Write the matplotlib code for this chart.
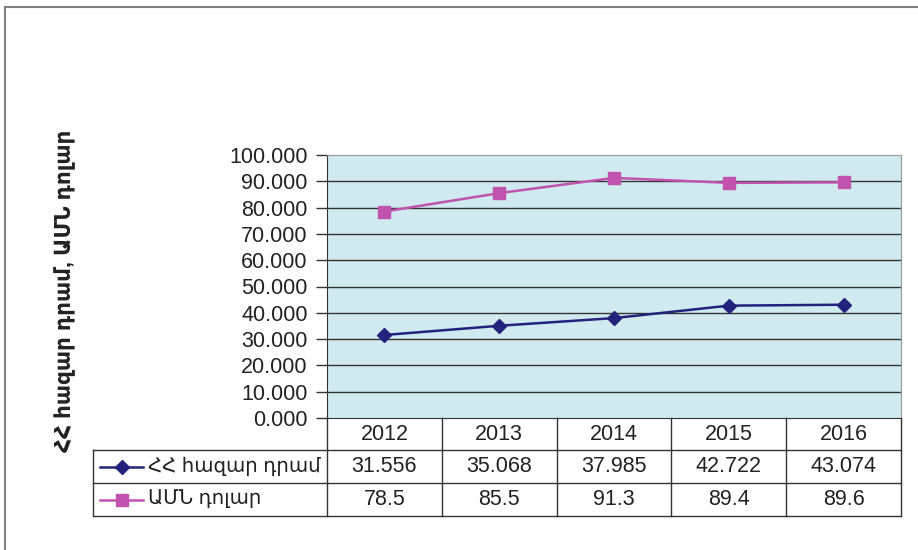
import matplotlib
matplotlib.use("Agg")
import matplotlib.pyplot as plt
import matplotlib.transforms as mtransforms
from matplotlib.lines import Line2D
from matplotlib.ticker import FuncFormatter

# data
years = ["2012", "2013", "2014", "2015", "2016"]
amd_thousand = [31.556, 35.068, 37.985, 42.722, 43.074]
usd = [78.5, 85.5, 91.3, 89.4, 89.6]
amd_text = ["31.556", "35.068", "37.985", "42.722", "43.074"]
usd_text = ["78.5", "85.5", "91.3", "89.4", "89.6"]
y_ticks = [0, 10, 20, 30, 40, 50, 60, 70, 80, 90, 100]
series_names = ["ՀՀ հազար դրամ", "ԱՄՆ դոլար"]
y_label = "ՀՀ հազար դրամ, ԱՄՆ դոլար"

FONT = ["Liberation Sans", "DejaVu Sans"]
plt.rcParams["font.family"] = FONT

W, H = 918, 550
NAVY = "#23237d"
PINK = "#c152ad"
TXT = "#222222"
FS = 15.5
LW = 1.8
MARKERS = [("D", 6.8), ("s", 9)]


def fx(px):
    return px / W


def fy(py):
    return 1 - py / H


fig = plt.figure(figsize=(W / 100, H / 100), dpi=100)
ax = fig.add_axes([fx(327), fy(418), fx(901) - fx(327), fy(155) - fy(418)])
ax.set_facecolor("#d0eaef")

for v in y_ticks[1:-1]:
    ax.axhline(v, color="#333333", lw=1, zorder=1)

x = list(range(len(years)))
for vals, col, (mk, ms) in zip([amd_thousand, usd], [NAVY, PINK], MARKERS):
    ax.plot(x, vals, color=col, lw=LW, marker=mk, ms=ms, mec=col, mfc=col, zorder=3)

ax.set_xlim(-0.5, len(years) - 0.5)
ax.set_ylim(0, 100)
ax.set_yticks(y_ticks)
ax.yaxis.set_major_formatter(FuncFormatter(lambda v, _: f"{v:.3f}"))
ax.tick_params(axis="y", direction="out", length=8, width=1, color="#333333",
               labelsize=FS, labelcolor=TXT, pad=6)
ax.set_xticks([])
for side in ("top", "right"):
    ax.spines[side].set_color("#999999")
ax.spines["left"].set_color("#333333")
ax.spines["bottom"].set_color("#333333")

# data table under the plot
trans = mtransforms.blended_transform_factory(ax.transData, fig.transFigure)
row_top = [418, 450, 483]
row_bot = [450, 483, 516]
lc = "#333333"
for i in range(len(years) + 1):
    fig.add_artist(Line2D([i - 0.5, i - 0.5], [fy(418), fy(516)], transform=trans, color=lc, lw=1))
for py in (450, 483, 516):
    fig.add_artist(Line2D([fx(93), fx(901)], [fy(py), fy(py)], transform=fig.transFigure, color=lc, lw=1))
fig.add_artist(Line2D([fx(93), fx(93)], [fy(450), fy(516)], transform=fig.transFigure, color=lc, lw=1))

rows = [years, amd_text, usd_text]
for r, vals in enumerate(rows):
    yc = fy((row_top[r] + row_bot[r]) / 2)
    for i, v in enumerate(vals):
        fig.text(i, yc, v, transform=trans, ha="center", va="center", fontsize=FS, color=TXT)

# legend keys in the row-label cells
for r, (name, col, (mk, ms)) in enumerate(zip(series_names, [NAVY, PINK], MARKERS), start=1):
    yc = fy((row_top[r] + row_bot[r]) / 2)
    fig.add_artist(Line2D([fx(100), fx(143)], [yc, yc], transform=fig.transFigure, color=col, lw=LW))
    fig.add_artist(Line2D([fx(121.5)], [yc], transform=fig.transFigure, color=col, marker=mk, ms=ms,
                          mfc=col, mec=col, lw=0))
    fig.text(fx(148), yc, name, ha="left", va="center", fontsize=14.2, color=TXT)

fig.text(fx(65), fy(291), y_label, rotation=90, ha="center", va="center", fontsize=15.5,
         fontweight="bold", color=TXT)

# outer frame (top and left edges)
fig.add_artist(Line2D([fx(4.5), 1], [fy(6.5), fy(6.5)], transform=fig.transFigure, color="#808080", lw=1.5))
fig.add_artist(Line2D([fx(4.5), fx(4.5)], [fy(6.5), 0], transform=fig.transFigure, color="#808080", lw=1.5))

fig.savefig("out.png", dpi=100)
